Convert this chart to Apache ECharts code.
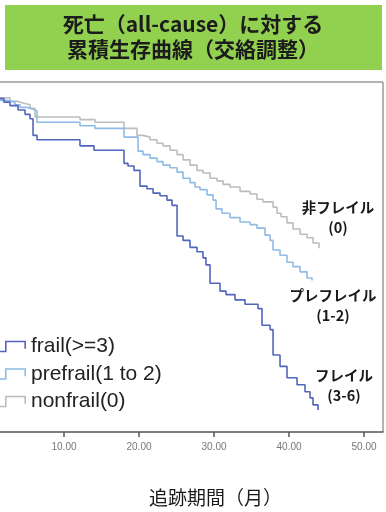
<!DOCTYPE html>
<html><head><meta charset="utf-8">
<script src="https://cdn.jsdelivr.net/npm/echarts@6/dist/echarts.min.js"></script>
<style>html,body{margin:0;padding:0;background:#fff}#c{width:386px;height:512px}</style>
</head><body><div id="c"></div>
<script>
// Data (months, cumulative survival)
const seriesNames = ['frail(>=3)', 'prefrail(1 to 2)', 'nonfrail(0)'];
const frailT = [1.0, 2.0, 2.8, 3.87, 4.8, 5.47, 5.87, 6.4, 12.13, 14.0, 18.0, 18.53, 19.33, 20.13, 21.07, 21.87, 22.8, 23.73, 24.4, 25.07, 25.87, 26.8, 27.73, 28.53, 28.93, 29.47, 30.8, 31.6, 32.8, 34.13, 35.87, 36.4, 37.47, 37.87, 38.8, 39.73, 41.07, 42.13, 42.8, 43.2, 43.87];
const frailS = [0.981, 0.977, 0.973, 0.968, 0.963, 0.958, 0.939, 0.934, 0.927, 0.922, 0.907, 0.904, 0.899, 0.881, 0.878, 0.873, 0.870, 0.865, 0.859, 0.824, 0.819, 0.811, 0.806, 0.799, 0.791, 0.770, 0.761, 0.757, 0.751, 0.746, 0.741, 0.722, 0.717, 0.688, 0.675, 0.662, 0.654, 0.646, 0.639, 0.631, 0.625];
const prefrailT = [1.0, 2.4, 3.47, 4.13, 5.07, 5.87, 6.4, 12.13, 14.13, 18.0, 19.87, 20.53, 21.47, 22.4, 23.2, 24.13, 25.07, 25.87, 26.8, 27.47, 28.13, 29.07, 29.87, 30.27, 31.07, 32.13, 33.47, 34.8, 35.73, 36.8, 37.47, 37.87, 38.8, 39.73, 40.53, 41.47, 42.4, 43.07];
const prefrailS = [0.979, 0.977, 0.974, 0.971, 0.969, 0.967, 0.954, 0.950, 0.947, 0.937, 0.921, 0.917, 0.913, 0.909, 0.905, 0.902, 0.897, 0.890, 0.885, 0.880, 0.877, 0.871, 0.865, 0.855, 0.850, 0.845, 0.840, 0.837, 0.833, 0.825, 0.819, 0.808, 0.802, 0.794, 0.789, 0.783, 0.776, 0.773];
const nonfrailT = [1.0, 2.8, 3.73, 4.53, 5.47, 6.13, 12.13, 14.13, 18.0, 19.73, 20.53, 21.47, 22.4, 23.2, 24.13, 25.07, 25.87, 26.8, 27.73, 28.53, 29.47, 30.4, 31.2, 32.13, 33.47, 34.8, 35.73, 36.53, 37.87, 38.4, 38.93, 39.73, 40.53, 41.47, 42.4, 43.2, 44.0];
const nonfrailS = [0.982, 0.978, 0.976, 0.974, 0.970, 0.960, 0.957, 0.954, 0.947, 0.939, 0.937, 0.934, 0.930, 0.927, 0.922, 0.917, 0.911, 0.905, 0.899, 0.896, 0.890, 0.887, 0.883, 0.880, 0.875, 0.872, 0.866, 0.863, 0.857, 0.850, 0.846, 0.839, 0.832, 0.826, 0.822, 0.816, 0.810];
const xTicks = [10, 20, 30, 40, 50];
const xMin = 1.4667, xMax = 52.53;   // visible (cropped) part of the time axis
const titleText = '死亡（all-cause）に対する\n累積生存曲線（交絡調整）';
const xName = '追跡期間（月）';
const curveLabels = ['フレイル\n(3-6)', 'プレフレイル\n(1-2)', '非フレイル\n(0)'];

const zip = (t, s) => t.map((v, i) => [v, s[i]]);
const colors = ['#5265bd', '#8fbbe6', '#bdbdbd'];
const legendIcon = 'path://M0,10 L5,10 L5,0 L26,0 L26,8 L24.4,8 L24.4,1.6 L6.6,1.6 L6.6,11.6 L0,11.6 Z';
const CJK = '"Noto Sans CJK JP", "Noto Sans", sans-serif';

const chart = echarts.init(document.getElementById('c'), null, {renderer: 'canvas'});
chart.setOption({
  animation: false,
  title: {
    text: titleText, left: 'center', top: 12, padding: 0,
    textStyle: {fontFamily: CJK, fontSize: 21, fontWeight: 'bold', lineHeight: 25, color: '#1c1c1c'}
  },
  grid: {left: 0, right: 3, top: 82, bottom: 80, show: false},
  legend: {
    orient: 'vertical', left: 0, top: 336, padding: 0, itemWidth: 26, itemHeight: 12, itemGap: 6.5,
    icon: legendIcon, itemStyle: {borderWidth: 0},
    textStyle: {fontFamily: '"Liberation Sans", Arial, sans-serif', fontSize: 21, lineHeight: 20, color: '#222'},
    data: seriesNames
  },
  xAxis: {
    type: 'value', min: xMin, max: xMax,
    splitLine: {show: false},
    axisLine: {lineStyle: {color: '#555', width: 1.5}},
    axisTick: {length: 5, lineStyle: {color: '#555', width: 1.5}, customValues: xTicks},
    axisLabel: {customValues: xTicks, formatter: v => v.toFixed(2), fontSize: 10, color: '#777', margin: 10, fontFamily: '"Liberation Sans", Arial, sans-serif'},
    name: xName, nameLocation: 'middle', nameGap: 56,
    nameTextStyle: {fontFamily: CJK, fontSize: 19, color: '#1a1a1a', padding: [0, 0, 0, 48]}
  },
  yAxis: {type: 'value', min: 0.6, max: 1.0, show: false, splitLine: {show: false}},
  series: [
    {name: seriesNames[2], type: 'line', step: 'end', showSymbol: false, symbol: 'none', data: zip(nonfrailT, nonfrailS), lineStyle: {color: colors[2], width: 1.6}, itemStyle: {color: colors[2]}},
    {name: seriesNames[1], type: 'line', step: 'end', showSymbol: false, symbol: 'none', data: zip(prefrailT, prefrailS), lineStyle: {color: colors[1], width: 1.6}, itemStyle: {color: colors[1]}},
    {name: seriesNames[0], type: 'line', step: 'end', showSymbol: false, symbol: 'none', data: zip(frailT, frailS), lineStyle: {color: colors[0], width: 1.6}, itemStyle: {color: colors[0]}}
  ],
  graphic: [
    {type: 'rect', z: -1, shape: {x: 5, y: 5, width: 377, height: 65}, style: {fill: '#92d050'}},
    {type: 'line', shape: {x1: 0, y1: 82, x2: 383, y2: 82}, style: {stroke: '#9a9a9a', lineWidth: 1.5}},
    {type: 'line', shape: {x1: 383, y1: 82, x2: 383, y2: 432}, style: {stroke: '#9a9a9a', lineWidth: 1.5}},
    {type: 'text', x: 344, y: 385, style: {text: curveLabels[0], align: 'center', verticalAlign: 'middle', font: 'bold 14.5px ' + CJK, lineHeight: 20, fill: '#1a1a1a'}},
    {type: 'text', x: 333, y: 305, style: {text: curveLabels[1], align: 'center', verticalAlign: 'middle', font: 'bold 14.5px ' + CJK, lineHeight: 20, fill: '#1a1a1a'}},
    {type: 'text', x: 338, y: 217, style: {text: curveLabels[2], align: 'center', verticalAlign: 'middle', font: 'bold 14.5px ' + CJK, lineHeight: 20, fill: '#1a1a1a'}}
  ]
});
</script></body></html>
